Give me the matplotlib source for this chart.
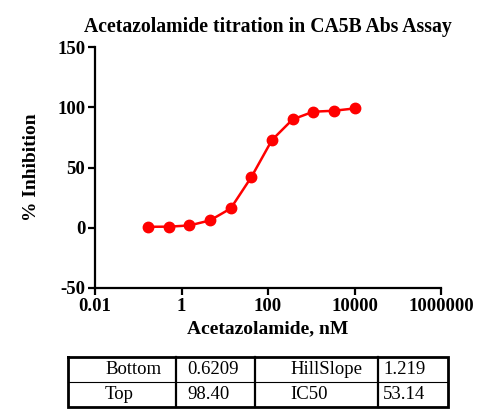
import matplotlib.pyplot as plt
import numpy as np

# dose-response data (3-fold dilution series)
conc = [0.169, 0.508, 1.524, 4.572, 13.72, 41.15, 123.5, 370.4, 1111, 3333, 10000]
inhibition = [0.8, 0.9, 1.9, 6.1, 16.0, 42.0, 72.8, 89.9, 96.3, 97.1, 99.0]

param_names = ["Bottom", "Top", "HillSlope", "IC50"]
param_values = ["0.6209", "98.40", "1.219", "53.14"]

yticks = [-50, 0, 50, 100, 150]
xticks = [0.01, 1, 100, 10000, 1000000]
xtick_labels = ["0.01", "1", "100", "10000", "1000000"]

plt.rcParams['font.family'] = ['Liberation Serif', 'DejaVu Serif']
plt.rcParams['axes.unicode_minus'] = False

fig = plt.figure(figsize=(5, 4.2), dpi=100)
W, H = 500, 420
ax = fig.add_axes([95 / W, 1 - 288 / H, (441 - 95) / W, (288 - 47) / H])

ax.plot(conc, inhibition, color='red', lw=1.8, marker='o', markersize=7.5,
        markeredgecolor='red', markerfacecolor='red')

ax.set_xscale('log')
ax.set_xlim(0.01, 1000000)
ax.set_ylim(-50, 150)
ax.set_xticks(xticks)
ax.set_xticklabels(xtick_labels)
ax.minorticks_off()
ax.set_yticks(yticks)

for s in ['top', 'right']:
    ax.spines[s].set_visible(False)
for s in ['left', 'bottom']:
    ax.spines[s].set_linewidth(1.6)
ax.tick_params(width=1.6, length=5, labelsize=13.5, pad=2)
for lbl in ax.get_xticklabels() + ax.get_yticklabels():
    lbl.set_fontweight('bold')

ax.set_title("Acetazolamide titration in CA5B Abs Assay", fontsize=14.2,
             fontweight='bold', pad=11)
ax.set_xlabel("Acetazolamide, nM", fontsize=14, fontweight='bold', labelpad=4)
ax.set_ylabel("% Inhibition", fontsize=14, fontweight='bold', labelpad=12)

# parameter table
tx0, tx1, ty0, ty1 = 68, 448, 356.7, 406.7
tax = fig.add_axes([tx0 / W, 1 - ty1 / H, (tx1 - tx0) / W, (ty1 - ty0) / H])
tax.set_xlim(tx0, tx1)
tax.set_ylim(ty1, ty0)
tax.axis('off')

col_edges = [68, 176, 255, 378, 448]
col_text_x = [105, 187, 290, 383]
row_mid = (ty0 + ty1) / 2
row_centers = [(ty0 + row_mid) / 2, (row_mid + ty1) / 2]

tax.plot([tx0, tx1, tx1, tx0, tx0], [ty0, ty0, ty1, ty1, ty0], color='black',
         lw=2, solid_joinstyle='miter', clip_on=False)
for xe in col_edges[1:-1]:
    tax.plot([xe, xe], [ty0, ty1], color='black', lw=1.6, clip_on=False)
tax.plot([tx0, tx1], [row_mid, row_mid], color='black', lw=0.8, clip_on=False)

cells = [[param_names[0], param_values[0], param_names[2], param_values[2]],
         [param_names[1], param_values[1], param_names[3], param_values[3]]]
for r, row in enumerate(cells):
    for c, txt in enumerate(row):
        tax.text(col_text_x[c], row_centers[r], txt, fontsize=13.5, ha='left',
                 va='center')

fig.savefig("out.png", dpi=100)
